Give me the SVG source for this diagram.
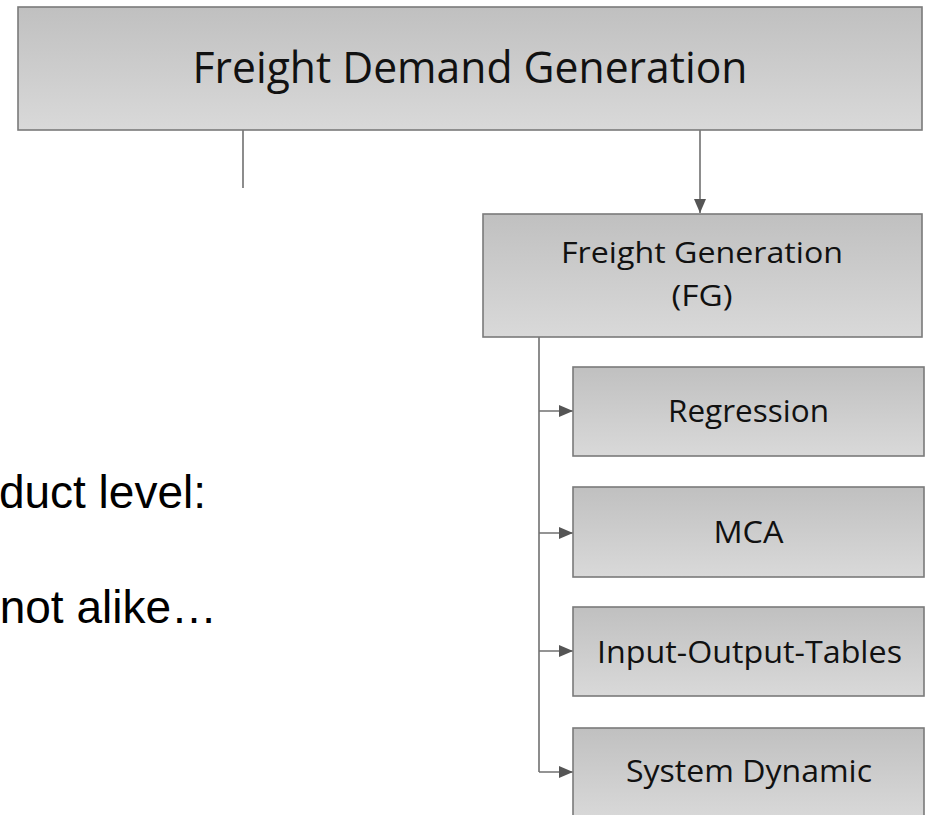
<svg xmlns="http://www.w3.org/2000/svg" width="926" height="815" viewBox="0 0 926 815">
<defs>
<linearGradient id="g" x1="0" y1="0" x2="0" y2="1">
<stop offset="0" stop-color="#c0c0c0"/>
<stop offset="1" stop-color="#d9d9d9"/>
</linearGradient>
<marker id="ah" viewBox="0 0 14 12" refX="14" refY="6" markerWidth="14" markerHeight="12" markerUnits="userSpaceOnUse" orient="auto">
<path d="M0,0 L14,6 L0,12 z" fill="#555"/>
</marker>
<style>
.box{fill:url(#g);stroke:#7a7a7a;stroke-width:1.6}
.bt{font-family:"Open Sans","Noto Sans",sans-serif;fill:#111;text-anchor:middle}
.con{fill:none;stroke:#707070;stroke-width:1.6}
.arr{fill:none;stroke:#707070;stroke-width:1.6;marker-end:url(#ah)}
.lt{font-family:"Liberation Sans",Arial,sans-serif;font-size:46px;fill:#000;text-anchor:end}
</style>
</defs>
<rect width="926" height="815" fill="#fff"/>
<g id="connectors">
<path class="con" d="M243,130 V188"/>
<path class="arr" d="M700,130 V213"/>
<path class="con" d="M539,337 V772"/>
<path class="arr" d="M539,411 H573"/>
<path class="arr" d="M539,533 H573"/>
<path class="arr" d="M539,651 H573"/>
<path class="arr" d="M539,772 H573"/>
</g>
<g id="fdg">
<rect class="box" x="18" y="7" width="904" height="123"/>
<text class="bt" x="470" y="83" font-size="43" textLength="555" lengthAdjust="spacingAndGlyphs">Freight Demand Generation</text>
</g>
<g id="fg">
<rect class="box" x="483" y="214" width="439" height="123"/>
<text class="bt" x="702" y="263" font-size="30" textLength="282" lengthAdjust="spacingAndGlyphs">Freight Generation</text>
<text class="bt" x="702" y="306" font-size="30" textLength="61" lengthAdjust="spacingAndGlyphs">(FG)</text>
</g>
<g id="regression">
<rect class="box" x="573" y="367" width="351" height="89"/>
<text class="bt" x="748.5" y="422" font-size="31" textLength="161" lengthAdjust="spacingAndGlyphs">Regression</text>
</g>
<g id="mca">
<rect class="box" x="573" y="487" width="351" height="90"/>
<text class="bt" x="748.5" y="543" font-size="31" textLength="70" lengthAdjust="spacingAndGlyphs">MCA</text>
</g>
<g id="io">
<rect class="box" x="573" y="607" width="351" height="89"/>
<text class="bt" x="749.5" y="663" font-size="31" textLength="305" lengthAdjust="spacingAndGlyphs">Input-Output-Tables</text>
</g>
<g id="sd">
<rect class="box" x="573" y="728" width="351" height="92"/>
<text class="bt" x="749" y="782" font-size="31" textLength="246" lengthAdjust="spacingAndGlyphs">System Dynamic</text>
</g>
<g id="bodytext">
<text class="lt" x="206" y="508">duct level:</text>
<text class="lt" x="217" y="623">not alike…</text>
</g>
</svg>
